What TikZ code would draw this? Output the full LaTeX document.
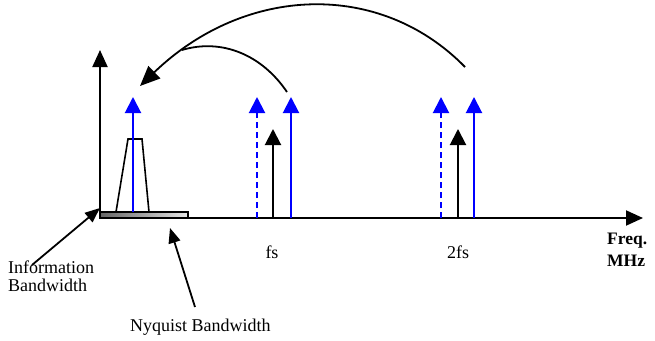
\documentclass[tikz,border=0pt]{standalone}
\usepackage{fontspec}
\setmainfont{Liberation Serif}
\usetikzlibrary{arrows.meta}
\begin{document}
\begin{tikzpicture}[x=1pt,y=-1pt,
  axis/.style={line width=2pt,-{Triangle[length=17pt,width=15pt]}},
  bluearr/.style={blue,line width=2pt,-{Triangle[length=16pt,width=16pt]}},
  bluedash/.style={bluearr,dash pattern=on 6pt off 4pt},
  blackarr/.style={black,line width=2pt,-{Triangle[length=16pt,width=16pt]}},
  curvearr/.style={line width=1.8pt,-{Triangle[length=20pt,width=17pt]}},
  pointer/.style={line width=1.8pt,-{Triangle[length=15pt,width=12pt]}},
  lbl/.style={font=\fontsize{18}{18}\selectfont,inner sep=0pt},
  boldlbl/.style={font=\fontsize{17.5}{22}\selectfont\bfseries,inner sep=0pt,align=left}]
\useasboundingbox (0,0) rectangle (655,340);
% origin and axis ends
\coordinate (o) at (100,218);
\coordinate (ytop) at (100,50);
\coordinate (xend) at (643,218);
% Nyquist bar
\shade[left color=black!60,middle color=black!35,right color=black!10] (100,212) rectangle (188,218);
\draw[line width=1.6pt] (100,212) rectangle (188,218);
% info band trapezoid
\draw[line width=1.6pt] (116,212) -- (128,139) -- (142,139) -- (149,212);
% axes
\draw[axis] (o) -- (ytop);
\draw[axis] (o) -- (xend);
% baseband tone
\coordinate (b0) at (133,212);
\coordinate (b1) at (133,97);
\draw[bluearr] (b0) -- (b1);
% fs group
\coordinate (f1a) at (257,218); \coordinate (f1b) at (257,97);
\coordinate (f2a) at (273,218); \coordinate (f2b) at (273,129);
\coordinate (f3a) at (291,218); \coordinate (f3b) at (291,97);
\draw[bluedash] (f1a) -- (f1b);
\draw[blackarr] (f2a) -- (f2b);
\draw[bluearr] (f3a) -- (f3b);
% 2fs group
\coordinate (g1a) at (441,218); \coordinate (g1b) at (441,97);
\coordinate (g2a) at (458,218); \coordinate (g2b) at (458,129);
\coordinate (g3a) at (474,218); \coordinate (g3b) at (474,97);
\draw[bluedash] (g1a) -- (g1b);
\draw[blackarr] (g2a) -- (g2b);
\draw[bluearr] (g3a) -- (g3b);
% fold-back curves
\coordinate (bigstart) at (465,67);
\coordinate (target) at (140,86);
\coordinate (smallstart) at (287,92);
\coordinate (merge) at (182,50);
\draw[curvearr] (bigstart) .. controls (380,-20) and (245,-15) .. (target);
\draw[line width=1.8pt] (smallstart) .. controls (262,55) and (222,38) .. (merge);
% labels
\node[lbl,anchor=base] (fs) at (272,258) {fs};
\node[lbl,anchor=base] (tfs) at (458,258) {2fs};
\node[boldlbl,anchor=base west] (freq) at (607,266) {Freq.\\MHz};
\node[lbl,anchor=base west,align=left] (info) at (8,291) {Information\\Bandwidth};
\node[lbl,anchor=base west] (nyq) at (130,331) {Nyquist Bandwidth};
% pointers
\coordinate (infotail) at (32,265);
\coordinate (infotip) at (100,208);
\coordinate (nyqtail) at (195,307);
\coordinate (nyqtip) at (170,228);
\draw[pointer] (infotail) -- (infotip);
\draw[pointer] (nyqtail) -- (nyqtip);
\end{tikzpicture}
\end{document}
